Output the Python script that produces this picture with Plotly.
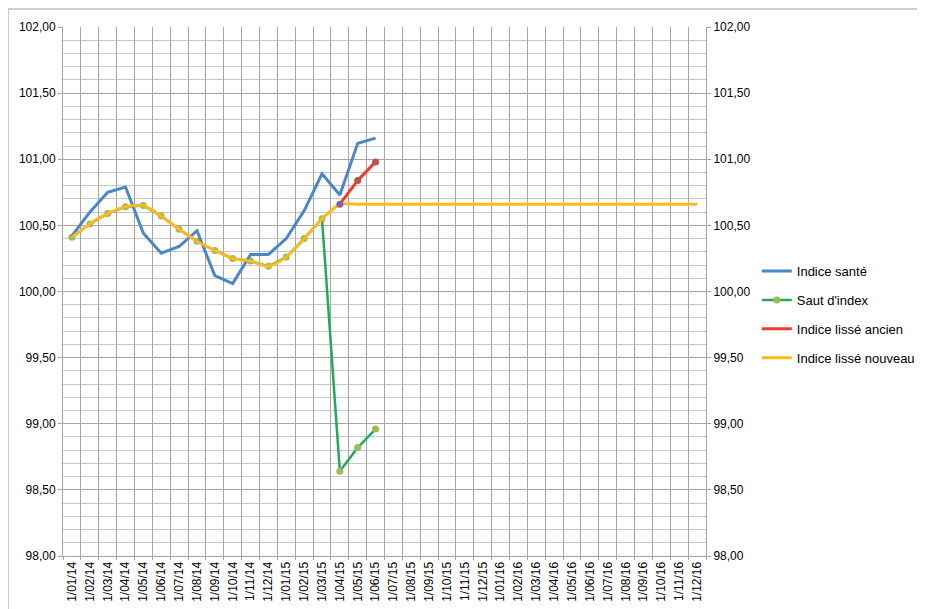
import plotly.graph_objects as go

months = ["1/%02d/%s" % (m, y) for y in ["14", "15", "16"] for m in range(1, 13)]

sante = [100.42, 100.60, 100.75, 100.79, 100.44, 100.29, 100.34, 100.46, 100.12,
         100.06, 100.28, 100.28, 100.40, 100.61, 100.89, 100.73, 101.12, 101.16]

saut = [100.41, 100.51, 100.59, 100.64, 100.65, 100.57, 100.47, 100.38, 100.31,
        100.25, 100.23, 100.19, 100.26, 100.40, 100.55, 98.64, 98.82, 98.96]

ancien_x = months[15:18]
ancien = [100.66, 100.84, 100.98]

nouveau = [100.41, 100.51, 100.59, 100.64, 100.65, 100.57, 100.47, 100.38, 100.31,
           100.25, 100.23, 100.19, 100.26, 100.40, 100.55] + [100.66] * 21

ancien_marker_colors = ["#8064A2", "#C0504D", "#C0504D"]

FONT = "Liberation Sans"
GRID = "#A6A6A6"

fig = go.Figure()

fig.add_trace(go.Scatter(
    x=months[:len(saut)], y=saut, name="Saut d'index", mode="lines+markers",
    line=dict(color="#24A85C", width=2.5), marker=dict(color="#9BBB59", size=7),
    legendrank=2, legendgroup="b"))
fig.add_trace(go.Scatter(
    x=months[:len(sante)], y=sante, name="Indice santé", mode="lines",
    line=dict(color="#4A86C8", width=3), legendrank=1, legendgroup="a"))
fig.add_trace(go.Scatter(
    x=months, y=nouveau, name="Indice lissé nouveau", mode="lines",
    line=dict(color="#FDBA1E", width=3, shape="spline", smoothing=0.6),
    legendrank=4, legendgroup="d"))
fig.add_trace(go.Scatter(
    x=ancien_x, y=ancien, name="Indice lissé ancien", mode="lines",
    line=dict(color="#EE3B2A", width=3), legendrank=3, legendgroup="c"))
fig.add_trace(go.Scatter(
    x=ancien_x, y=ancien, mode="markers", showlegend=False,
    marker=dict(color=ancien_marker_colors, size=7)))
# invisible trace to anchor the right-hand axis
fig.add_trace(go.Scatter(
    x=months, y=nouveau, yaxis="y2", mode="lines", showlegend=False,
    line=dict(width=0), opacity=0, hoverinfo="skip"))

yaxis_common = dict(
    range=[98, 102], dtick=0.5, tickformat=".2f", showline=True, linecolor=GRID,
    linewidth=1, ticks="outside", ticklen=4, tickcolor=GRID, automargin=False,
    tickfont=dict(family=FONT, size=12, color="#000000"), zeroline=False)

fig.update_layout(
    width=925, height=609,
    margin=dict(l=55, r=227, t=19, b=61, autoexpand=False),
    paper_bgcolor="white", plot_bgcolor="white",
    separators=", ",
    font=dict(family=FONT, size=12, color="#000000"),
    xaxis=dict(
        type="category", categoryorder="array", categoryarray=months,
        tickmode="array", tickvals=months, ticktext=months,
        range=[-0.5, 35.5], tickson="boundaries", tickangle=-90,
        showgrid=True, gridcolor=GRID, gridwidth=1, showline=True,
        linecolor=GRID, ticks="outside", ticklen=3, tickcolor=GRID,
        automargin=False,
        tickfont=dict(family=FONT, size=12, color="#000000")),
    yaxis=dict(**yaxis_common, showgrid=True, gridcolor=GRID, gridwidth=1,
               minor=dict(dtick=0.1, showgrid=True, gridcolor="#C8C8C8", gridwidth=1)),
    yaxis2=dict(**yaxis_common, overlaying="y", side="right", showgrid=False),
    legend=dict(x=1.079, y=0.567, xanchor="left", yanchor="top",
                font=dict(family=FONT, size=13, color="#000000"),
                tracegroupgap=9, bgcolor="rgba(0,0,0,0)"),
    showlegend=True,
    shapes=[dict(type="rect", xref="paper", yref="paper",
                 x0=-0.0855, x1=1.3375, y0=-0.12, y1=1.034,
                 line=dict(color="#BFBFBF", width=1.5), layer="below")],
)

fig.write_html("out.html")
